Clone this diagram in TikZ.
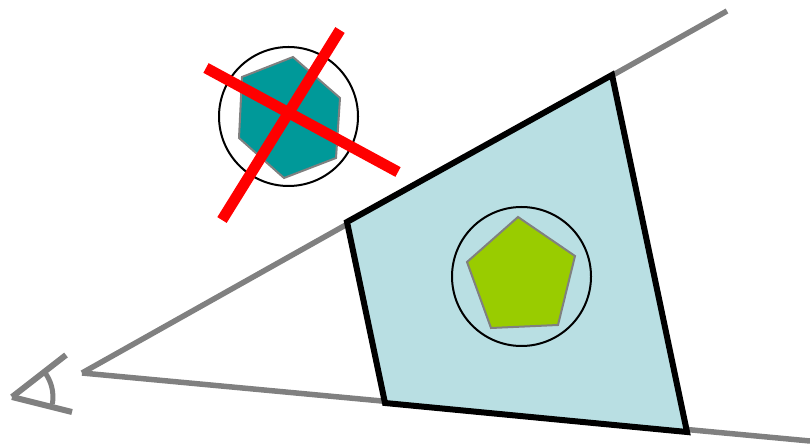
\documentclass[tikz,border=0pt]{standalone}
\usetikzlibrary{calc}
\definecolor{volblue}{RGB}{185,223,227}
\definecolor{hexteal}{RGB}{0,153,153}
\definecolor{pentgreen}{RGB}{153,204,0}
\definecolor{culred}{RGB}{255,0,0}

\begin{document}
\begin{tikzpicture}[x=1pt,y=1pt]
    \useasboundingbox (0,0) rectangle (810,444);

    % Eye
    \coordinate (eye) at (12,47);
    \draw[line width=6pt, gray] (66,89) -- (eye);
    \draw[line width=6pt, gray] (eye) -- (72,32);
    \draw[line width=5pt, gray] (44.7,71.7) arc[start angle=37, end angle=-10, radius=41pt];

    % View frustum edges
    \coordinate (apex) at (82,71);
    \draw[line width=5.5pt, gray] (apex) -- (727,433);
    \draw[line width=5.5pt, gray] (apex) -- (810,3);

    % Bounding volume inside the frustum
    \draw[line width=6pt, fill=volblue, line join=miter] (347,222) -- (612,369) -- (687,12) -- (385,41) -- cycle;
    \draw[line width=2pt] (521.5,167.5) circle (69.5pt);
    \draw[line width=2pt, gray, fill=pentgreen] (518,227) -- (575,188) -- (558,119) -- (491,116) -- (467,182) -- cycle;

    % Culled object
    \draw[line width=2pt] (288.5,327.5) circle (69.5pt);
    \draw[line width=2pt, gray, fill=hexteal] (293,387) -- (340,346) -- (336,286) -- (284,266) -- (239,306) -- (242,367) -- cycle;
    \draw[line width=11pt, culred] (206,376) -- (398,272);
    \draw[line width=11pt, culred] (340,414) -- (222,224);
\end{tikzpicture}
\end{document}
